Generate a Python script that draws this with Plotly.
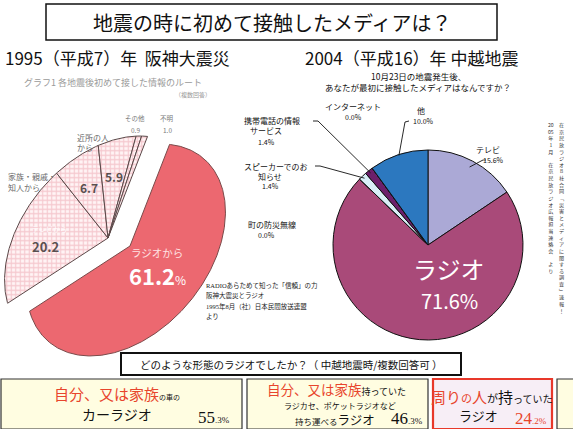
import numpy as np
import plotly.graph_objects as go

W, H = 573, 429
JP = "Noto Sans CJK JP, sans-serif"
SERIF = "Liberation Serif, Noto Sans CJK JP, serif"
RED = "#E8452C"

# ---- 1995 阪神大震災: route of the first information (order: clockwise from the radio slice)
hanshin_labels = ["ラジオから", "テレビから", "家族・親戚・知人から", "近所の人から", "その他", "不明"]
hanshin_values = [61.2, 20.2, 6.7, 5.9, 0.9, 1.0]

# ---- 2004 中越地震: first media contacted (clockwise from 12 o'clock)
chuetsu_labels = ["テレビ", "ラジオ", "町の防災無線", "スピーカーでのお知らせ",
                  "携帯電話の情報サービス", "インターネット", "他"]
chuetsu_values = [15.6, 71.6, 0.0, 1.4, 1.4, 0.0, 10.0]
chuetsu_colors = ["#ABA9D6", "#A94A79", "#E6F4FA", "#D9EFF7", "#6C1F6B", "#FFFFFF", "#2C78BF"]

# ---- type of radio used (中越地震, multiple answers)
radio_type_values = [55.3, 46.3, 24.2]

fig = go.Figure()
shapes, annotations = [], []


def txt(x, y, s, size, color="#111", family=JP, xanchor="center", yanchor="middle", align="center"):
    annotations.append(dict(x=x, y=y, xref="x", yref="y", text=s, showarrow=False,
                            font=dict(size=size, color=color, family=family),
                            xanchor=xanchor, yanchor=yanchor, align=align, borderpad=0))


def box(x0, y0, x1, y1, line="#333", width=1.2, fill="white"):
    shapes.append(dict(type="rect", xref="x", yref="y", x0=x0, y0=y0, x1=x1, y1=y1,
                       line=dict(color=line, width=width), fillcolor=fill, layer="below"))


def seg(pts, color="#111", width=0.9):
    path = "M " + " L ".join(f"{x:.1f},{y:.1f}" for x, y in pts)
    shapes.append(dict(type="path", xref="x", yref="y", path=path,
                       line=dict(color=color, width=width)))


# ---------------- header ----------------
box(46, 4, 497, 40, line="#111", width=1.5)
txt(272, 22, "地震の時に初めて接触したメディアは？", 20, "#111")
txt(4, 57, "1995（平成7）年  阪神大震災", 17, "#111", xanchor="left")
txt(304, 57, "2004（平成16）年 中越地震", 17, "#111", xanchor="left")

# ---------------- left: tilted pie (1995) ----------------
txt(23, 82, "グラフ1 各地震後初めて接した情報のルート", 9, "#9a9a9a", xanchor="left")
txt(193, 94, "（複数回答）", 6, "#9a9a9a")

CX, CY, A, B, ROT = 104.0, 242.0, 120.0, 82.0, -50.0     # ellipse of the tilted disc
APEX = (108.0, 238.0)
EXPLODE = (22.0, 8.0)


def ellipse_pt(t_deg):
    t, r = np.radians(t_deg), np.radians(ROT)
    ux, uy = np.cos(r), np.sin(r)
    vx, vy = -np.sin(r), np.cos(r)
    return (CX + A * np.cos(t) * ux + B * np.sin(t) * vx,
            CY + A * np.cos(t) * uy + B * np.sin(t) * vy)


tot = sum(hanshin_values)
spans = [v / tot * 360 for v in hanshin_values]
t_start = 90 - spans[0] / 2
slice_geom = []
for i, (lab, val) in enumerate(zip(hanshin_labels, hanshin_values)):
    t0, t1 = t_start, t_start + spans[i]
    t_start = t1
    ts = np.linspace(t0, t1, max(int(spans[i] * 2), 3))
    ex, ey = EXPLODE if i == 0 else (0.0, 0.0)
    xs = [APEX[0] + ex] + [ellipse_pt(t)[0] + ex for t in ts] + [APEX[0] + ex]
    ys = [APEX[1] + ey] + [ellipse_pt(t)[1] + ey for t in ts] + [APEX[1] + ey]
    mx, my = ellipse_pt((t0 + t1) / 2)
    slice_geom.append((APEX[0] + ex, APEX[1] + ey, mx + ex, my + ey))
    if i == 0:
        fig.add_trace(go.Scatter(x=xs, y=ys, mode="lines", fill="toself",
                                 fillcolor="#EC6870", line=dict(color="#7a4a4a", width=1),
                                 hoverinfo="skip", showlegend=False))
    else:
        fig.add_trace(go.Scatter(x=xs, y=ys, mode="lines", fill="toself",
                                 fillcolor="#FFF3F4",
                                 fillpattern=dict(shape="+", fgcolor="#EC9CA8", bgcolor="#FFF4F5",
                                                  size=4.5, solidity=0.45),
                                 line=dict(color="#5a4848", width=1),
                                 hoverinfo="skip", showlegend=False))


def along(i, f):
    ax, ay, mx, my = slice_geom[i]
    return ax + f * (mx - ax), ay + f * (my - ay)


# in-slice labels
rx, ry = along(0, 0.5)
txt(rx - 2, ry - 22, hanshin_labels[0], 10.5, "#FFE3E3")
txt(rx - 2, ry + 1,
    f"<b>{hanshin_values[0]:.1f}</b><span style='font-size:12px'>%</span>", 22, "#FFFFFF")
tx, ty = along(1, 0.62)
txt(tx, ty - 8, hanshin_labels[1], 7, "#FFFFFF")
txt(tx - 4, ty + 9, f"<b>{hanshin_values[1]:.1f}</b>", 13, "#5a5050")
for i in (2, 3):
    lx, ly = along(i, 0.62)
    txt(lx, ly, f"<b>{hanshin_values[i]:.1f}</b>", 12, "#5a5050")

# outside labels
txt(7, 176, "家族・親戚・", 8, "#6a6a6a", xanchor="left")
txt(7, 187, "知人から", 8, "#6a6a6a", xanchor="left")
txt(76, 137, "近所の人", 8, "#6a6a6a", xanchor="left")
txt(76, 147, "から", 8, "#6a6a6a", xanchor="left")
txt(135, 118, hanshin_labels[4], 6.5, "#7a7a7a")
txt(135, 130, f"{hanshin_values[4]:.1f}", 6.5, "#7a7a7a")
txt(167, 118, hanshin_labels[5], 6.5, "#7a7a7a")
txt(167, 130, f"{hanshin_values[5]:.1f}", 6.5, "#7a7a7a")

# citation
cite = ["RADIOあらためて知った「信頼」の力", "阪神大震災とラジオ",
        "1995年8月（社）日本民間放送連盟", "より"]
for k, line in enumerate(cite):
    txt(205, 285 + k * 10.5, line, 6.5, "#222", family=SERIF, xanchor="left")

# ---------------- right: pie (2004) ----------------
PCX, PCY, PR = 428.0, 245.0, 95.0
fig.add_trace(go.Pie(values=chuetsu_values, labels=chuetsu_labels, sort=False,
                     direction="clockwise", rotation=0, textinfo="none", hoverinfo="skip",
                     marker=dict(colors=chuetsu_colors, line=dict(color="#111", width=1)),
                     domain=dict(x=[(PCX - PR) / W, (PCX + PR) / W],
                                 y=[1 - (PCY + PR) / H, 1 - (PCY - PR) / H]),
                     showlegend=False))


def edge(i, f=1.0):
    tv = sum(chuetsu_values)
    mid = (sum(chuetsu_values[:i]) + chuetsu_values[i] / 2) / tv * 2 * np.pi
    return PCX + PR * f * np.sin(mid), PCY - PR * f * np.cos(mid)


txt(418, 76, "10月23日の地震発生後、", 8.5)
txt(418, 87, "あなたが最初に接触したメディアはなんですか？", 8.5)

pct = lambda v: f"{v:.1f}%"
txt(488, 149, chuetsu_labels[0], 8)
txt(493, 160, pct(chuetsu_values[0]), 7)
seg([(483, 160), (486, 160)], width=0.8)
seg([(483, 160), edge(0, 0.93)])

txt(449, 268, chuetsu_labels[1], 24, "white")
txt(449, 300, pct(chuetsu_values[1]), 20, "white")

txt(272, 224, chuetsu_labels[2], 8)
txt(266, 235, pct(chuetsu_values[2]), 7)

txt(276, 166, "スピーカーでのお", 8)
txt(270, 176, "知らせ", 8)
txt(270, 186, pct(chuetsu_values[3]), 7)
seg([(315, 166), (320, 166), edge(3, 0.97)])

txt(272, 120, "携帯電話の情報", 8)
txt(266, 130, "サービス", 8)
txt(266, 142, pct(chuetsu_values[4]), 7)
seg([(313, 121), (318, 121), edge(4, 0.97)])

txt(353, 106, chuetsu_labels[5], 8)
txt(353, 117, pct(chuetsu_values[5]), 7)

txt(421, 110, chuetsu_labels[6], 8)
txt(423, 121, pct(chuetsu_values[6]), 7)
seg([(409, 121), (405, 122), edge(6, 0.99)])

# vertical source note: one glyph per line, each column a single text block
col_r = list("在京民放ラジオ８社合同﹁災害とメディアに関する調査﹂速報！")
col_l = ["20", "05", "年", "1", "月", "　", "在", "京", "民", "放", "ラ", "ジ", "オ", "広", "報",
         "担", "当", "連", "絡", "会", "　", "よ", "り"]
txt(561, 120, "<br>".join(col_r), 5.1, "#333", yanchor="top")
txt(551, 120, "<br>".join(col_l), 5.1, "#333", yanchor="top")

# ---------------- bottom: radio type ----------------
box(121, 353, 461, 375, line="#111", width=2)
txt(291, 364, "どのような形態のラジオでしたか？（ 中越地震時/複数回答可 ）", 10.5)

CREAM = "#FFFDE1"
box(1, 379, 242, 429, fill=CREAM)
box(247, 379, 428, 429, fill=CREAM)
box(433, 379, 552, 429, line="#E8382A", width=2.2, fill="#F7EEF6")
box(557, 379, 590, 429, fill=CREAM)


def value_html(v, small=9):
    whole, dec = f"{v:.1f}".split(".")
    return f"{whole}<span style='font-size:{small}px'>.{dec}%</span>"


# box 1
txt(117, 393, f"<span style='color:{RED}'>自分、又は家族</span>"
              f"<span style='font-size:7px'>の車の</span>", 15)
txt(117, 414, "カーラジオ", 14)
txt(231, 417, value_html(radio_type_values[0]), 17, "#111", family=SERIF, xanchor="right")

# box 2
txt(336, 389, f"<span style='color:{RED}'>自分、又は家族</span>"
              f"<span style='font-size:9px'>持っていた</span>", 13.5)
txt(340, 405, "ラジカセ、ポケットラジオなど", 8)
txt(335, 419, "<span style='font-size:8.5px'>持ち運べる</span>ラジオ", 12.5)
txt(424, 418, value_html(radio_type_values[1]), 17, "#111", family=SERIF, xanchor="right")

# box 3
txt(492, 396, f"<span style='color:{RED}'>周り<span style='font-size:11px'>の</span>人</span>"
              f"<span style='font-size:11px'>が</span>持<span style='font-size:10px'>っていた</span>", 15)
txt(478, 415, "ラジオ", 13)
txt(548, 418, value_html(radio_type_values[2]), 17, RED, family=SERIF, xanchor="right")

fig.update_layout(
    width=W, height=H, margin=dict(l=0, r=0, t=0, b=0),
    paper_bgcolor="white", plot_bgcolor="white",
    xaxis=dict(range=[0, W], visible=False, fixedrange=True, domain=[0, 1]),
    yaxis=dict(range=[H, 0], visible=False, fixedrange=True, domain=[0, 1]),
    shapes=shapes, annotations=annotations, showlegend=False,
    font=dict(family=JP),
)
fig.write_html("out.html", config={"displayModeBar": False})
